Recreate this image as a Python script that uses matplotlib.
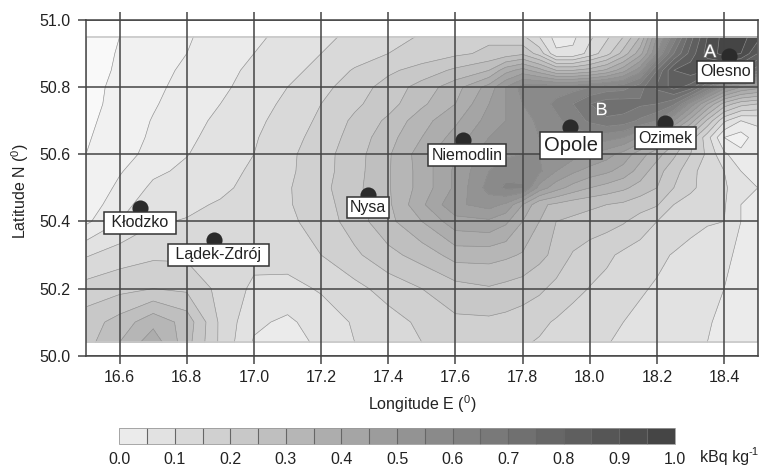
import matplotlib
matplotlib.use("Agg")
import matplotlib.pyplot as plt
import matplotlib.patheffects as pe
from matplotlib.cm import ScalarMappable
from matplotlib.colors import BoundaryNorm, ListedColormap
from matplotlib.patches import Rectangle
import numpy as np

plt.rcParams['font.family'] = ['Liberation Sans', 'DejaVu Sans']
plt.rcParams['mathtext.fontset'] = 'custom'
plt.rcParams['mathtext.rm'] = 'Liberation Sans'
plt.rcParams['mathtext.default'] = 'rm'

lons = [16.5, 16.6, 16.7, 16.8, 16.9, 17.0, 17.1, 17.2, 17.3, 17.4, 17.5, 17.6, 17.7, 17.75, 17.8,
        17.85, 17.9, 17.95, 18.0, 18.05, 18.1, 18.15, 18.2, 18.25, 18.3, 18.35, 18.4, 18.45, 18.5]
lats = [50.04, 50.1, 50.2, 50.3, 50.4, 50.45, 50.5, 50.55, 50.6, 50.65, 50.7, 50.75, 50.8, 50.85, 50.9, 50.95]

act_5004 = [.23, .30, .38, .27, .14, .045, .03, .06, .10, .125, .15, .165, .17, .165, .155, .146, .135, .125, .115, .103, .09, .08, .07, .06, .055, .05, .04, .03, .03]
act_5010 = [.225, .27, .335, .28, .14, .06, .04, .075, .105, .13, .16, .19, .19, .185, .175, .16, .145, .13, .12, .108, .10, .09, .08, .07, .06, .052, .045, .035, .03]
act_5020 = [.17, .185, .20, .19, .135, .09, .085, .105, .135, .17, .20, .23, .245, .235, .225, .21, .185, .165, .148, .135, .12, .105, .095, .085, .07, .06, .05, .04, .035]
act_5030 = [.095, .125, .14, .14, .125, .115, .12, .15, .19, .235, .27, .32, .32, .31, .295, .265, .235, .195, .175, .16, .14, .125, .11, .097, .085, .07, .055, .045, .04]
act_5040 = [-.01, .05, .095, .103, .12, .125, .14, .17, .225, .285, .35, .43, .44, .41, .35, .30, .25, .24, .23, .22, .205, .18, .15, .13, .115, .105, .10, .05, .045]
act_5045 = [-.03, .03, .08, .09, .105, .12, .145, .178, .23, .29, .39, .49, .52, .49, .40, .31, .29, .27, .26, .25, .24, .22, .205, .15, .13, .115, .105, .05, .05]
act_5050 = [-.045, .012, .06, .075, .09, .115, .145, .185, .235, .295, .37, .46, .57, .61, .61, .48, .42, .38, .35, .33, .31, .28, .25, .20, .16, .13, .11, .06, .05]
act_5055 = [-.048, -.005, .04, .06, .082, .108, .14, .18, .23, .295, .37, .46, .55, .58, .57, .56, .50, .46, .43, .41, .38, .33, .27, .22, .17, .12, .10, .05, .05]
act_5060 = [-.05, -.018, .015, .048, .075, .10, .138, .18, .228, .293, .375, .45, .53, .54, .55, .55, .54, .52, .50, .47, .43, .37, .32, .26, .20, .14, .06, .015, .04]
act_5065 = [-.055, -.025, .008, .04, .068, .095, .13, .17, .22, .28, .35, .42, .50, .52, .54, .55, .56, .57, .58, .57, .55, .49, .42, .33, .23, .12, .00, -.025, .03]
act_5070 = [-.06, -.03, .003, .033, .06, .088, .12, .16, .21, .26, .33, .39, .47, .50, .53, .56, .59, .62, .66, .69, .68, .64, .60, .50, .38, .24, .11, .05, .06]
act_5075 = [-.07, -.03, -.005, .025, .05, .08, .11, .15, .19, .23, .29, .35, .45, .50, .55, .58, .61, .65, .70, .73, .73, .71, .70, .66, .53, .40, .28, .22, .20]
act_5080 = [-.07, -.035, -.01, .015, .04, .07, .10, .135, .175, .22, .27, .33, .42, .50, .57, .58, .58, .58, .60, .62, .63, .68, .76, .82, .78, .65, .52, .45, .42]
act_5085 = [-.08, -.04, -.015, .008, .035, .06, .085, .115, .155, .19, .22, .26, .30, .38, .42, .37, .30, .30, .32, .36, .43, .53, .70, .85, .88, .85, .82, .78, .72]
act_5090 = [-.08, -.045, -.025, 0.0, .025, .05, .075, .10, .125, .15, .17, .19, .21, .22, .24, .18, .06, .06, .12, .18, .27, .38, .55, .70, .82, .92, .97, .95, .85]
act_5095 = [-.08, -.05, -.03, -.005, .02, .04, .065, .09, .11, .13, .155, .18, .19, .18, .16, .10, .03, .04, .09, .14, .20, .30, .50, .62, .78, .90, .97, .97, .92]

towns = [' Kłodzko ', ' Lądek-Zdrój ', 'Nysa', 'Niemodlin', 'Opole', 'Ozimek', 'Olesno']
town_lon = [16.66, 16.88, 17.34, 17.622, 17.94, 18.224, 18.414]
town_lat = [50.44, 50.345, 50.48, 50.642, 50.68, 50.693, 50.893]
label_off = [(0, -15), (5, -15), (0, -13), (4, -15), (1, -18), (0.5, -15), (-3, -16)]

ticks_x = [16.6, 16.8, 17.0, 17.2, 17.4, 17.6, 17.8, 18.0, 18.2, 18.4]
ticks_y = [50.0, 50.2, 50.4, 50.6, 50.8, 51.0]
bar_ticks = [0.0, 0.1, 0.2, 0.3, 0.4, 0.5, 0.6, 0.7, 0.8, 0.9, 1.0]

z = np.array([act_5004, act_5010, act_5020, act_5030, act_5040, act_5045, act_5050, act_5055,
              act_5060, act_5065, act_5070, act_5075, act_5080, act_5085, act_5090, act_5095])

# colour bar runs 0..1, the map goes a bit under 0 on the west side
bar_levels = np.arange(0, 1.0001, 0.05)
greys = ['#%02x%02x%02x' % (g, g, g) for g in np.linspace(235, 69, 20).astype(int)]
map_levels = np.arange(-0.1, 1.0001, 0.05)
map_greys = ['#f9f9f9', '#f1f1f1'] + greys

W, H = 769, 466
fig = plt.figure(figsize=(W / 100, H / 100), dpi=100)
ax = fig.add_axes([86 / W, 1 - 355.7 / H, 671.7 / W, 335.7 / H])

ax.contourf(lons, lats, z, levels=map_levels, colors=map_greys, zorder=1)
ax.contour(lons, lats, z, levels=map_levels, colors='#909090', linewidths=0.45,
           linestyles='solid', zorder=2)
ax.add_patch(Rectangle((16.5, 50.04), 2.0, 0.91, fill=False, ec='#c8c8c8', lw=1.2, zorder=2))

ax.set_xlim(16.5, 18.5)
ax.set_ylim(50.0, 51.0)
ax.set_xticks(ticks_x)
ax.set_yticks(ticks_y)
ax.set_xticklabels(['%.1f' % v for v in ticks_x])
ax.set_yticklabels(['%.1f' % v for v in ticks_y])
ax.tick_params(axis='both', length=6, width=1.1, color='#444444', labelsize=11.5,
               labelcolor='#222222', pad=5)
ax.tick_params(axis='x', top=True, pad=4)
ax.grid(True, color='#444444', linewidth=1.1, zorder=3)
ax.set_axisbelow(False)
for s in ax.spines.values():
    s.set_color('#444444')
    s.set_linewidth(1.1)
ax.set_xlabel('Longitude E ($^{0}$)', fontsize=11.5, color='#222222', labelpad=6)
ax.set_ylabel('Latitude N ($^{0}$)', fontsize=11.5, color='#222222')
ax.yaxis.set_label_coords(-0.082, 0.4906)

ax.scatter(town_lon, town_lat, s=135, color='#2b2b2b', zorder=5, linewidths=0)
for name, x, y, off in zip(towns, town_lon, town_lat, label_off):
    big = name == 'Opole'
    ax.annotate(name, (x, y), xytext=off, textcoords='offset pixels', ha='center', va='center',
                fontsize=14.5 if big else 11.5, color='#222222', zorder=6,
                bbox=dict(boxstyle='square,pad=0.2', fc='white', ec='#333333', lw=1.1))

for letter, x, y in [('A', 18.358, 50.903), ('B', 18.035, 50.73)]:
    ax.text(x, y, letter, fontsize=13, color='white', ha='center', va='center', zorder=6,
            path_effects=[pe.withStroke(linewidth=1, foreground='#777777')])

cax = fig.add_axes([119.3 / W, 1 - 444 / H, 555.4 / W, 15.7 / H])
sm = ScalarMappable(norm=BoundaryNorm(bar_levels, 20), cmap=ListedColormap(greys))
cb = fig.colorbar(sm, cax=cax, orientation='horizontal', drawedges=True)
cb.set_ticks(bar_ticks)
cb.set_ticklabels(['%.1f' % v for v in bar_ticks])
cb.ax.minorticks_off()
cb.ax.tick_params(length=0, labelsize=11.5, labelcolor='#222222', pad=6)
cb.dividers.set_color('#666666')
cb.dividers.set_linewidth(0.8)
cb.outline.set_edgecolor('#999999')
cb.outline.set_linewidth(0.6)
fig.text(700 / W, 1 - 457.5 / H, 'kBq kg', fontsize=11.5, color='#222222', va='center')
fig.text(748.5 / W, 1 - 452 / H, '-1', fontsize=8, color='#222222', va='center')

fig.savefig('out.png', dpi=100)
